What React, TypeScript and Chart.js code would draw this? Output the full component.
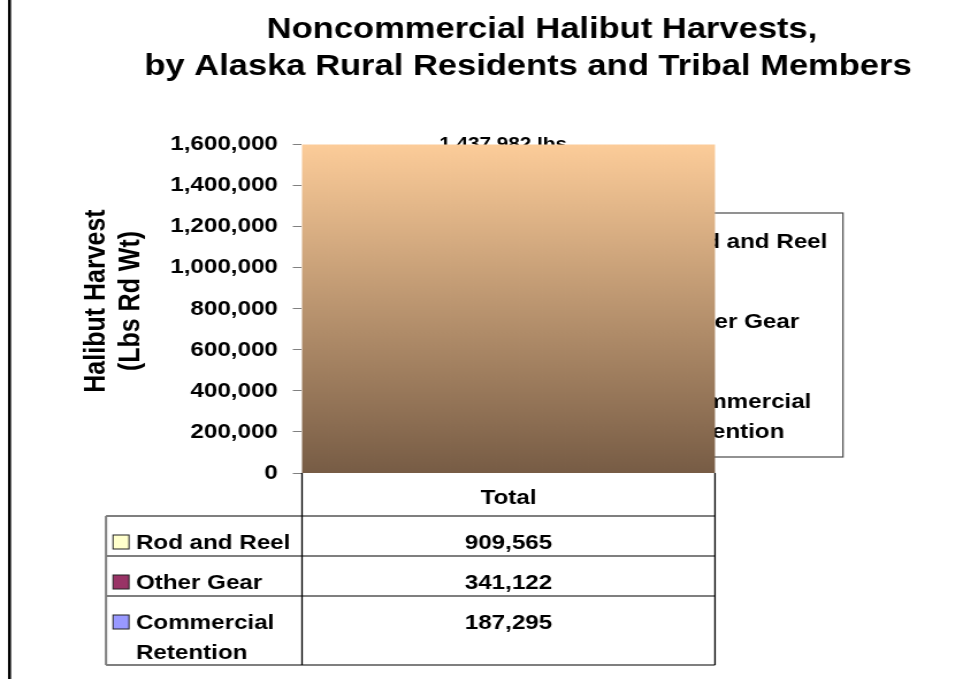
import React, { useEffect, useRef } from "react";
import { Chart, registerables } from "chart.js";

Chart.register(...registerables);

// ---------- data ----------
const titleLines = ["Noncommercial Halibut Harvests,", "by Alaska Rural Residents and Tribal Members"];
const yTitleLines = ["Halibut Harvest", "(Lbs Rd Wt)"];
const categories = ["Total"];
const seriesNames = ["Rod and Reel", "Other Gear", "Commercial Retention"];
const seriesLabelLines = [["Rod and Reel"], ["Other Gear"], ["Commercial", "Retention"]];
const rodAndReel = [909565];
const otherGear = [341122];
const commercialRetention = [187295];
const seriesColors = ["#FFFFCC", "#993366", "#9999FF"];
const yTickValues = [0, 200000, 400000, 600000, 800000, 1000000, 1200000, 1400000, 1600000];
const yMin = 0;
const yMax = 1600000;
const totalSuffix = " lbs";

// ---------- geometry ----------
const CW = 837;
const CH = 679;
const S = 963 / CW; // horizontal stretch of the canvas
const X = (sx: number) => sx / S;
const FONT = '"Liberation Sans", Arial, Helvetica, sans-serif';
const fmt = (v: number) => Math.round(v).toLocaleString("en-US");

const seriesData = [rodAndReel, otherGear, commercialRetention];

const overlayPlugin = {
  id: "overlay",
  beforeDraw(chart: any) {
    const ctx = chart.ctx as CanvasRenderingContext2D;
    ctx.save();
    ctx.fillStyle = "#ffffff";
    ctx.fillRect(0, 0, CW, CH);
    // left frame line
    ctx.fillStyle = "#000000";
    ctx.fillRect(X(8), 0, X(11) - X(8), CH);
    // title
    ctx.font = `bold 30px ${FONT}`;
    ctx.textAlign = "center";
    ctx.textBaseline = "alphabetic";
    ctx.fillText(titleLines[0], X(542), 38);
    ctx.fillText(titleLines[1], X(528), 75);
    // y axis title
    ctx.font = `bold 25px ${FONT}`;
    ctx.textBaseline = "middle";
    const yCenters = [96.5, 131];
    yTitleLines.forEach((t, i) => {
      ctx.save();
      ctx.translate(X(yCenters[i]), 301);
      ctx.rotate(-Math.PI / 2);
      ctx.fillText(t, 0, 0);
      ctx.restore();
    });
    ctx.restore();
  },
  afterDatasetsDraw(chart: any) {
    const ctx = chart.ctx as CanvasRenderingContext2D;
    const area = chart.chartArea;
    ctx.save();
    // total label
    const total = seriesData.reduce((s, arr) => s + arr[0], 0);
    ctx.fillStyle = "#000";
    ctx.font = `bold 18px ${FONT}`;
    ctx.textAlign = "center";
    ctx.textBaseline = "alphabetic";
    ctx.fillText(fmt(total) + totalSuffix, X(503), 150);

    // legend box
    const lx0 = X(640), lx1 = X(843), ly0 = 213, ly1 = 457;
    ctx.fillStyle = "#ffffff";
    ctx.fillRect(lx0, ly0, lx1 - lx0, ly1 - ly0);
    ctx.strokeStyle = "#4a4a4a";
    ctx.lineWidth = 1.2;
    ctx.strokeRect(lx0, ly0, lx1 - lx0, ly1 - ly0);
    ctx.font = `bold 21px ${FONT}`;
    ctx.textAlign = "left";
    const legBase = [248, 328, 408];
    seriesLabelLines.forEach((lines, i) => {
      ctx.fillStyle = seriesColors[i];
      ctx.fillRect(X(652), legBase[i] - 14, X(668) - X(652), 14);
      ctx.strokeStyle = "#000";
      ctx.lineWidth = 1;
      ctx.strokeRect(X(652), legBase[i] - 14, X(668) - X(652), 14);
      ctx.fillStyle = "#000";
      lines.forEach((l, j) => ctx.fillText(l, X(673), legBase[i] + j * 30));
    });

    // plot area gradient (covers everything inside the plot area)
    const g = ctx.createLinearGradient(0, area.top, 0, area.bottom);
    g.addColorStop(0, "#FCCC99");
    g.addColorStop(1, "#775C45");
    ctx.fillStyle = g;
    ctx.fillRect(area.left, area.top, area.right - area.left, area.bottom - area.top);
    ctx.restore();
  },
  afterDraw(chart: any) {
    const ctx = chart.ctx as CanvasRenderingContext2D;
    const area = chart.chartArea;
    ctx.save();
    const left = X(106);
    const mid = area.left;
    const right = area.right;
    const rows = [516, 556, 596, 665];
    // horizontal lines
    ctx.strokeStyle = "#7f7f7f";
    ctx.lineWidth = 2;
    rows.forEach((y) => {
      ctx.beginPath();
      ctx.moveTo(left, y);
      ctx.lineTo(right, y);
      ctx.stroke();
    });
    ctx.beginPath();
    ctx.moveTo(left, rows[0]);
    ctx.lineTo(left, rows[3]);
    ctx.stroke();
    ctx.strokeStyle = "#000";
    ctx.lineWidth = 1.3;
    [mid, right].forEach((x) => {
      ctx.beginPath();
      ctx.moveTo(x, area.bottom);
      ctx.lineTo(x, rows[3]);
      ctx.stroke();
    });
    // header
    ctx.fillStyle = "#000";
    ctx.font = `bold 21px ${FONT}`;
    ctx.textBaseline = "alphabetic";
    ctx.textAlign = "center";
    const cx = (mid + right) / 2;
    ctx.fillText(categories[0], cx, 504);
    // rows
    const base = [549, 589, 629];
    seriesLabelLines.forEach((lines, i) => {
      ctx.fillStyle = seriesColors[i];
      const sx = X(113), sw = X(129) - X(113);
      ctx.fillRect(sx, base[i] - 14, sw, 14);
      ctx.strokeStyle = "#222";
      ctx.lineWidth = 1;
      ctx.strokeRect(sx, base[i] - 14, sw, 14);
      ctx.fillStyle = "#000";
      ctx.textAlign = "left";
      lines.forEach((l, j) => ctx.fillText(l, X(136), base[i] + j * 30));
      ctx.textAlign = "center";
      ctx.fillText(fmt(seriesData[i][0]), cx, base[i]);
    });
    ctx.restore();
  },
};

export default function App() {
  const ref = useRef<HTMLCanvasElement | null>(null);
  useEffect(() => {
    if (!ref.current) return;
    const chart = new Chart(ref.current, {
      type: "bar",
      data: {
        labels: categories,
        datasets: seriesNames.map((name, i) => ({
          label: name,
          data: seriesData[i],
          backgroundColor: seriesColors[i],
          borderColor: "#000",
          borderWidth: 1,
        })),
      },
      options: {
        animation: false,
        responsive: false,
        devicePixelRatio: 1,
        layout: {
          padding: { left: 0, top: 144.5, right: CW - X(715), bottom: CH - 473 },
        },
        plugins: {
          legend: { display: false },
          title: { display: false },
          tooltip: { enabled: false },
        },
        scales: {
          x: { display: false, stacked: true },
          y: {
            stacked: true,
            min: yMin,
            max: yMax,
            afterBuildTicks: (scale: any) => {
              scale.ticks = yTickValues.map((v) => ({ value: v }));
            },
            afterFit: (scale: any) => {
              scale.width = X(302);
            },
            ticks: {
              color: "#000",
              padding: 13,
              font: { family: FONT, size: 21, weight: "bold" },
              callback: (v: any) => fmt(Number(v)),
            },
            grid: {
              drawOnChartArea: false,
              drawTicks: true,
              tickLength: 8,
              color: "#808080",
            },
            border: { display: false },
          },
        },
      } as any,
      plugins: [overlayPlugin],
    });
    return () => chart.destroy();
  }, []);
  return (
    <div style={{ position: "fixed", left: 0, top: 0, width: 963, height: 679, background: "#fff" }}>
      <canvas
        ref={ref}
        width={CW}
        height={CH}
        style={{ width: "963px", height: "679px", display: "block" }}
      />
    </div>
  );
}
